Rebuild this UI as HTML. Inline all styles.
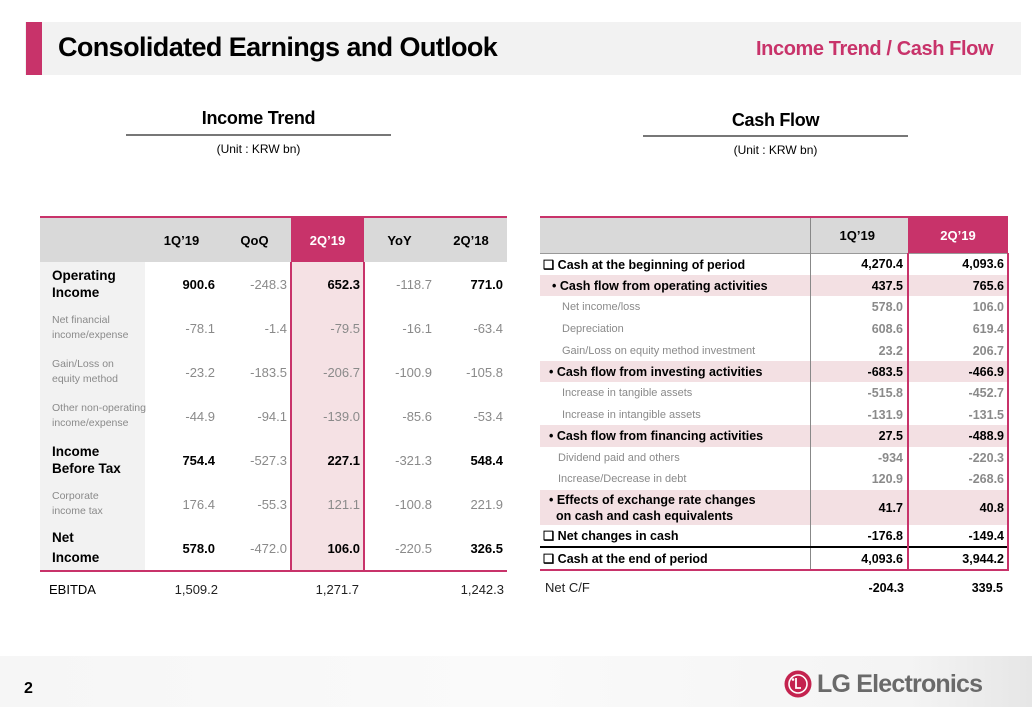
<!DOCTYPE html>
<html><head><meta charset="utf-8">
<style>
*{margin:0;padding:0;box-sizing:border-box}
body{width:1032px;height:707px;position:relative;background:#fff;font-family:"Liberation Sans",Arial,sans-serif;overflow:hidden;color:#000}
.abs{position:absolute}
table{border-collapse:collapse;table-layout:fixed;position:absolute}
td{padding:0;white-space:nowrap}
.n{text-align:right}
.b{font-weight:bold;color:#000}
.g{color:#8a8a8a}
#lt td{font-size:13px;vertical-align:middle}
#lt .lab{background:#f2f2f2;padding-left:12px;line-height:17px}
#lt .lab.g{font-size:10.5px;line-height:15px;color:#8a8a8a}
#lt .lab.b{font-size:13.5px}
#lt .hl{background:#f5e1e4;border-left:2px solid #c8336a;border-right:2px solid #c8336a}
#lt thead td{background:#d9d9d9;font-weight:bold;text-align:center;font-size:13px}
#lt thead td.hl{background:#c8336a;color:#fff;border:none}
#rt td{font-size:12.5px;vertical-align:middle}
#rt thead td{background:#d9d9d9;font-weight:bold;text-align:center;font-size:13px}
#rt thead td.hl{background:#c8336a;color:#fff}
#rt .c1{border-left:1px solid #888;padding-right:4px}
#rt .c2{border-left:2px solid #c8336a;border-right:2px solid #c8336a;padding-right:3px}
#rt .pk td{background:#f3e0e3}
#rt .sub{padding-left:22px;font-size:11px;color:#8a8a8a}
#rt .sub2{padding-left:18px;font-size:11px;color:#8a8a8a}
#rt .sub td.n,#rt tr.gr td.n{color:#8a8a8a;font-weight:bold}
</style></head><body>
<div class="abs" style="left:25px;top:22px;width:996px;height:53px;background:#f2f2f2"></div>
<div class="abs" style="left:26px;top:22px;width:16px;height:53px;background:#c8336a"></div>
<div class="abs" style="left:58px;top:32px;font-size:27px;font-weight:bold;letter-spacing:-0.6px">Consolidated Earnings and Outlook</div>
<div class="abs" style="left:756px;top:38px;font-size:20px;font-weight:bold;color:#c8336a;letter-spacing:-0.4px">Income Trend / Cash Flow</div>

<div class="abs" style="left:126px;top:108px;width:265px;text-align:center;font-size:18px;font-weight:bold;letter-spacing:-0.3px">Income Trend</div>
<div class="abs" style="left:126px;top:134px;width:265px;height:2px;background:#777"></div>
<div class="abs" style="left:126px;top:142px;width:265px;text-align:center;font-size:12px">(Unit : KRW bn)</div>

<div class="abs" style="left:643px;top:110px;width:265px;text-align:center;font-size:18px;font-weight:bold;letter-spacing:-0.3px">Cash Flow</div>
<div class="abs" style="left:643px;top:135px;width:265px;height:2px;background:#777"></div>
<div class="abs" style="left:643px;top:143px;width:265px;text-align:center;font-size:12px">(Unit : KRW bn)</div>

<table id="lt" style="left:40px;top:216px;width:467px;border-top:2px solid #c8336a">
<colgroup><col style="width:105px"><col style="width:73px"><col style="width:73px"><col style="width:73px"><col style="width:71px"><col style="width:72px"></colgroup>
<thead><tr style="height:45px"><td></td><td>1Q’19</td><td>QoQ</td><td class="hl">2Q’19</td><td>YoY</td><td>2Q’18</td></tr></thead>
<tbody>
<tr style="height:44px"><td class="lab b">Operating<br>Income</td><td class="n b" style="padding-right:3px">900.6</td><td class="n g" style="padding-right:3px">-248.3</td><td class="n b hl" style="padding-right:3px">652.3</td><td class="n g" style="padding-right:3px">-118.7</td><td class="n b" style="padding-right:4px">771.0</td></tr>
<tr style="height:44px"><td class="lab g">Net financial<br>income/expense</td><td class="n g" style="padding-right:3px">-78.1</td><td class="n g" style="padding-right:3px">-1.4</td><td class="n g hl" style="padding-right:3px">-79.5</td><td class="n g" style="padding-right:3px">-16.1</td><td class="n g" style="padding-right:4px">-63.4</td></tr>
<tr style="height:44px"><td class="lab g">Gain/Loss on<br>equity method</td><td class="n g" style="padding-right:3px">-23.2</td><td class="n g" style="padding-right:3px">-183.5</td><td class="n g hl" style="padding-right:3px">-206.7</td><td class="n g" style="padding-right:3px">-100.9</td><td class="n g" style="padding-right:4px">-105.8</td></tr>
<tr style="height:44px"><td class="lab g">Other non-operating<br>income/expense</td><td class="n g" style="padding-right:3px">-44.9</td><td class="n g" style="padding-right:3px">-94.1</td><td class="n g hl" style="padding-right:3px">-139.0</td><td class="n g" style="padding-right:3px">-85.6</td><td class="n g" style="padding-right:4px">-53.4</td></tr>
<tr style="height:44px"><td class="lab b">Income<br>Before Tax</td><td class="n b" style="padding-right:3px">754.4</td><td class="n g" style="padding-right:3px">-527.3</td><td class="n b hl" style="padding-right:3px">227.1</td><td class="n g" style="padding-right:3px">-321.3</td><td class="n b" style="padding-right:4px">548.4</td></tr>
<tr style="height:44px"><td class="lab g">Corporate<br>income tax</td><td class="n g" style="padding-right:3px">176.4</td><td class="n g" style="padding-right:3px">-55.3</td><td class="n g hl" style="padding-right:3px">121.1</td><td class="n g" style="padding-right:3px">-100.8</td><td class="n g" style="padding-right:4px">221.9</td></tr>
<tr style="height:45px;border-bottom:2px solid #c8336a"><td class="lab b" style="line-height:20px">Net<br>Income</td><td class="n b" style="padding-right:3px">578.0</td><td class="n g" style="padding-right:3px">-472.0</td><td class="n b hl" style="padding-right:3px">106.0</td><td class="n g" style="padding-right:3px">-220.5</td><td class="n b" style="padding-right:4px">326.5</td></tr>
<tr style="height:36px"><td style="padding-left:9px;color:#000;font-size:13px">EBITDA</td><td class="n" style="padding-right:0;color:#222">1,509.2</td><td></td><td class="n" style="padding-right:5px;color:#222">1,271.7</td><td></td><td class="n" style="padding-right:3px;color:#222">1,242.3</td></tr>
</tbody></table>

<table id="rt" style="left:540px;top:216px;width:468px;border-top:2px solid #c8336a">
<colgroup><col style="width:270px"><col style="width:98px"><col style="width:100px"></colgroup>
<thead><tr style="height:36px;border-bottom:1px solid #999"><td></td><td class="c1" style="text-align:center">1Q’19</td><td class="hl">2Q’19</td></tr></thead>
<tbody>
<tr style="height:22px"><td class="b" style="padding-left:3px">❑ Cash at the beginning of period</td><td class="n b c1">4,270.4</td><td class="n b c2">4,093.6</td></tr>
<tr class="pk" style="height:21px"><td class="b" style="padding-left:12px">• Cash flow from operating activities</td><td class="n b c1">437.5</td><td class="n b c2">765.6</td></tr>
<tr class="gr" style="height:22px"><td class="sub">Net income/loss</td><td class="n c1">578.0</td><td class="n c2">106.0</td></tr>
<tr class="gr" style="height:22px"><td class="sub">Depreciation</td><td class="n c1">608.6</td><td class="n c2">619.4</td></tr>
<tr class="gr" style="height:21px"><td class="sub">Gain/Loss on equity method investment</td><td class="n c1">23.2</td><td class="n c2">206.7</td></tr>
<tr class="pk" style="height:21px"><td class="b" style="padding-left:9px">• Cash flow from investing activities</td><td class="n b c1">-683.5</td><td class="n b c2">-466.9</td></tr>
<tr class="gr" style="height:22px"><td class="sub">Increase in tangible assets</td><td class="n c1">-515.8</td><td class="n c2">-452.7</td></tr>
<tr class="gr" style="height:21px"><td class="sub">Increase in intangible assets</td><td class="n c1">-131.9</td><td class="n c2">-131.5</td></tr>
<tr class="pk" style="height:22px"><td class="b" style="padding-left:9px">• Cash flow from financing activities</td><td class="n b c1">27.5</td><td class="n b c2">-488.9</td></tr>
<tr class="gr" style="height:21px"><td class="sub2">Dividend paid and others</td><td class="n c1">-934</td><td class="n c2">-220.3</td></tr>
<tr class="gr" style="height:22px"><td class="sub2">Increase/Decrease in debt</td><td class="n c1">120.9</td><td class="n c2">-268.6</td></tr>
<tr class="pk" style="height:35px"><td class="b" style="padding-left:9px;line-height:16px">• Effects of exchange rate changes<br>&nbsp; on cash and cash equivalents</td><td class="n b c1">41.7</td><td class="n b c2">40.8</td></tr>
<tr style="height:22px;border-bottom:2px solid #000"><td class="b" style="padding-left:3px">❑ Net changes in cash</td><td class="n b c1">-176.8</td><td class="n b c2">-149.4</td></tr>
<tr style="height:23px;border-bottom:2px solid #c8336a"><td class="b" style="padding-left:3px">❑ Cash at the end of period</td><td class="n b c1">4,093.6</td><td class="n b c2">3,944.2</td></tr>
<tr style="height:34px"><td style="padding-left:5px;font-size:13px;color:#222">Net C/F</td><td class="n b" style="padding-right:4px">-204.3</td><td class="n b" style="padding-right:5px">339.5</td></tr>
</tbody></table>

<div class="abs" style="left:0;top:656px;width:1032px;height:51px;background:linear-gradient(90deg,#f6f6f6 0%,#fafafa 50%,#f4f4f4 88%,#e6e6e6 100%)"></div>
<div class="abs" style="left:24px;top:680px;font-size:16px;font-weight:bold">2</div>
<svg class="abs" style="left:784px;top:670px" width="28" height="28" viewBox="0 0 28 28"><circle cx="14" cy="14" r="13.5" fill="#c4234f"/><circle cx="14" cy="14" r="9" fill="none" stroke="#fff" stroke-width="1.6"/><path d="M12 8 V18 H17" stroke="#fff" stroke-width="1.8" fill="none"/><circle cx="9" cy="9.5" r="1.3" fill="#fff"/></svg>
<div class="abs" style="left:817px;top:670px;font-size:25px;font-weight:bold;color:#6a6a6a;letter-spacing:-0.8px">LG Electronics</div>
</body></html>
